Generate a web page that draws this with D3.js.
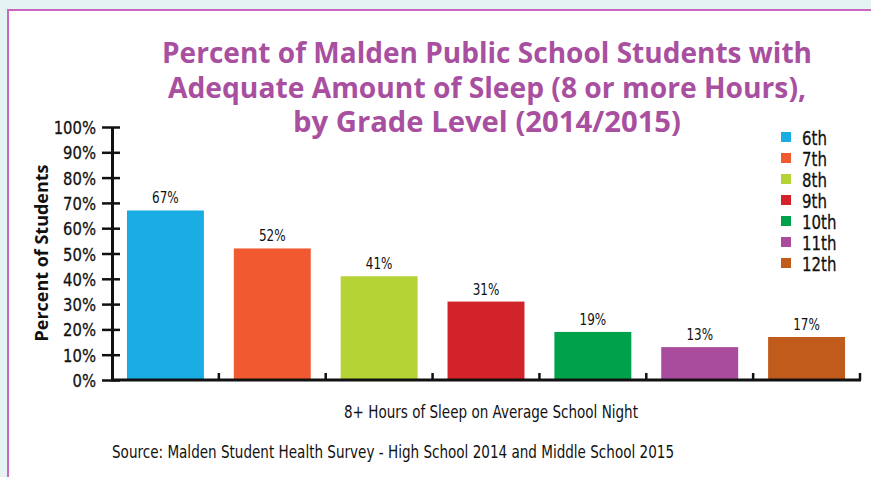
<!DOCTYPE html>
<html><head><meta charset="utf-8">
<script src="https://cdn.jsdelivr.net/npm/d3@7"></script>
<style>
html,body{margin:0;padding:0;background:#e6f3f3;}
svg{display:block;}
</style></head>
<body>
<svg id="c" width="871" height="477"></svg>
<script>
const categories = ["6th","7th","8th","9th","10th","11th","12th"];
const values = [67, 52, 41, 31, 19, 13, 17];
const colors = ["#19ade3","#f15a31","#b6d335","#d2232a","#00a14b","#a94c9e","#c15b1c"];
const yTicks = [0,10,20,30,40,50,60,70,80,90,100];
const titleLines = ["Percent of Malden Public School Students with","Adequate Amount of Sleep (8 or more Hours),","by Grade Level (2014/2015)"];
const titleWidths = [650, 638, 388];

const svg = d3.select("#c");
const sans = "'DejaVu Sans',sans-serif";
const bold = "'Open Sans',sans-serif";

svg.append("rect").attr("x",8).attr("y",10).attr("width",880).attr("height",480)
  .attr("fill","#fff").attr("stroke","#c966bf").attr("stroke-width",2);

const x = d3.scaleBand().domain(categories).range([112,860]).paddingInner(0.28).paddingOuter(0.14);
const y = d3.scaleLinear().domain([0,100]).range([380,127]);

// condensed text helper: places text at (px,py) squeezed horizontally by s
function squeeze(sel, s){
  sel.each(function(){
    const t = d3.select(this);
    const px = +t.attr("x")||0, py = +t.attr("y")||0;
    t.attr("x",0).attr("y",0).attr("transform",`translate(${px},${py}) scale(${s},1)`);
  });
}

// title
svg.append("g").selectAll("text").data(titleLines).join("text")
  .attr("x",487).attr("y",(d,i)=>63+i*34.5).attr("text-anchor","middle")
  .attr("font-family",bold).attr("font-weight","bold").attr("font-size",28)
  .attr("textLength",(d,i)=>titleWidths[i]).attr("lengthAdjust","spacingAndGlyphs")
  .attr("fill","#a94f9f").text(d=>d);

// bars
svg.append("g").selectAll("rect").data(values).join("rect")
  .attr("x",(d,i)=>x(categories[i])).attr("width",x.bandwidth())
  .attr("y",d=>y(d)).attr("height",d=>y(0)-y(d)).attr("fill",(d,i)=>colors[i]);

svg.append("g").selectAll("text").data(values).join("text")
  .attr("x",(d,i)=>x(categories[i])+x.bandwidth()/2).attr("y",d=>y(d)-7)
  .attr("text-anchor","middle").attr("font-family",sans).attr("font-size",15).attr("fill","#111")
  .text(d=>d+"%").call(squeeze,0.8);

// y axis
const yAxis = svg.append("g").attr("transform","translate(112,0)")
  .call(d3.axisLeft(y).tickValues(yTicks).tickFormat(d=>d+"%").tickSize(0).tickPadding(16));
yAxis.select(".domain").attr("stroke","#111").attr("stroke-width",3);
yAxis.selectAll(".tick line").remove();
yAxis.selectAll(".tick").append("line").attr("x1",-10).attr("x2",8).attr("stroke","#111").attr("stroke-width",2.5);
yAxis.selectAll(".tick text").attr("font-family",sans).attr("font-size",18.5).attr("fill","#111")
  .attr("stroke","#111").attr("stroke-width",0.3)
  .attr("dy",null).attr("y",6.5).call(squeeze,0.8);

// x axis
svg.append("line").attr("x1",111).attr("x2",861).attr("y1",380).attr("y2",380).attr("stroke","#111").attr("stroke-width",3);
svg.append("g").selectAll("line").data(categories).join("line")
  .attr("x1",(c)=>x(c)+x.bandwidth()+x.step()*x.paddingInner()/2)
  .attr("x2",(c)=>x(c)+x.bandwidth()+x.step()*x.paddingInner()/2)
  .attr("y1",380).attr("y2",373).attr("stroke","#111").attr("stroke-width",2.5);

// axis titles
svg.append("text").attr("transform","translate(48,253) rotate(-90)").attr("text-anchor","middle")
  .attr("font-family",bold).attr("font-weight","bold").attr("font-size",17).attr("fill","#111")
  .attr("textLength",177).attr("lengthAdjust","spacingAndGlyphs")
  .text("Percent of Students");
svg.append("text").attr("x",491).attr("y",418).attr("text-anchor","middle")
  .attr("font-family",sans).attr("font-size",17).attr("fill","#111")
  .attr("textLength",294).attr("lengthAdjust","spacingAndGlyphs")
  .text("8+ Hours of Sleep on Average School Night");
svg.append("text").attr("x",112).attr("y",458)
  .attr("font-family",sans).attr("font-size",17).attr("fill","#111")
  .attr("textLength",562).attr("lengthAdjust","spacingAndGlyphs")
  .text("Source:  Malden Student Health Survey - High School 2014 and Middle School 2015");

// legend
const lg = svg.append("g").selectAll("g").data(categories).join("g")
  .attr("transform",(d,i)=>`translate(781,${132+i*21})`);
lg.append("rect").attr("width",10).attr("height",10).attr("fill",(d,i)=>colors[i]);
lg.append("text").attr("x",21).attr("y",12.5).attr("font-family",sans).attr("font-size",20).attr("fill","#111")
  .attr("stroke","#111").attr("stroke-width",0.3)
  .text(d=>d).call(squeeze,0.75);
</script>
</body></html>
